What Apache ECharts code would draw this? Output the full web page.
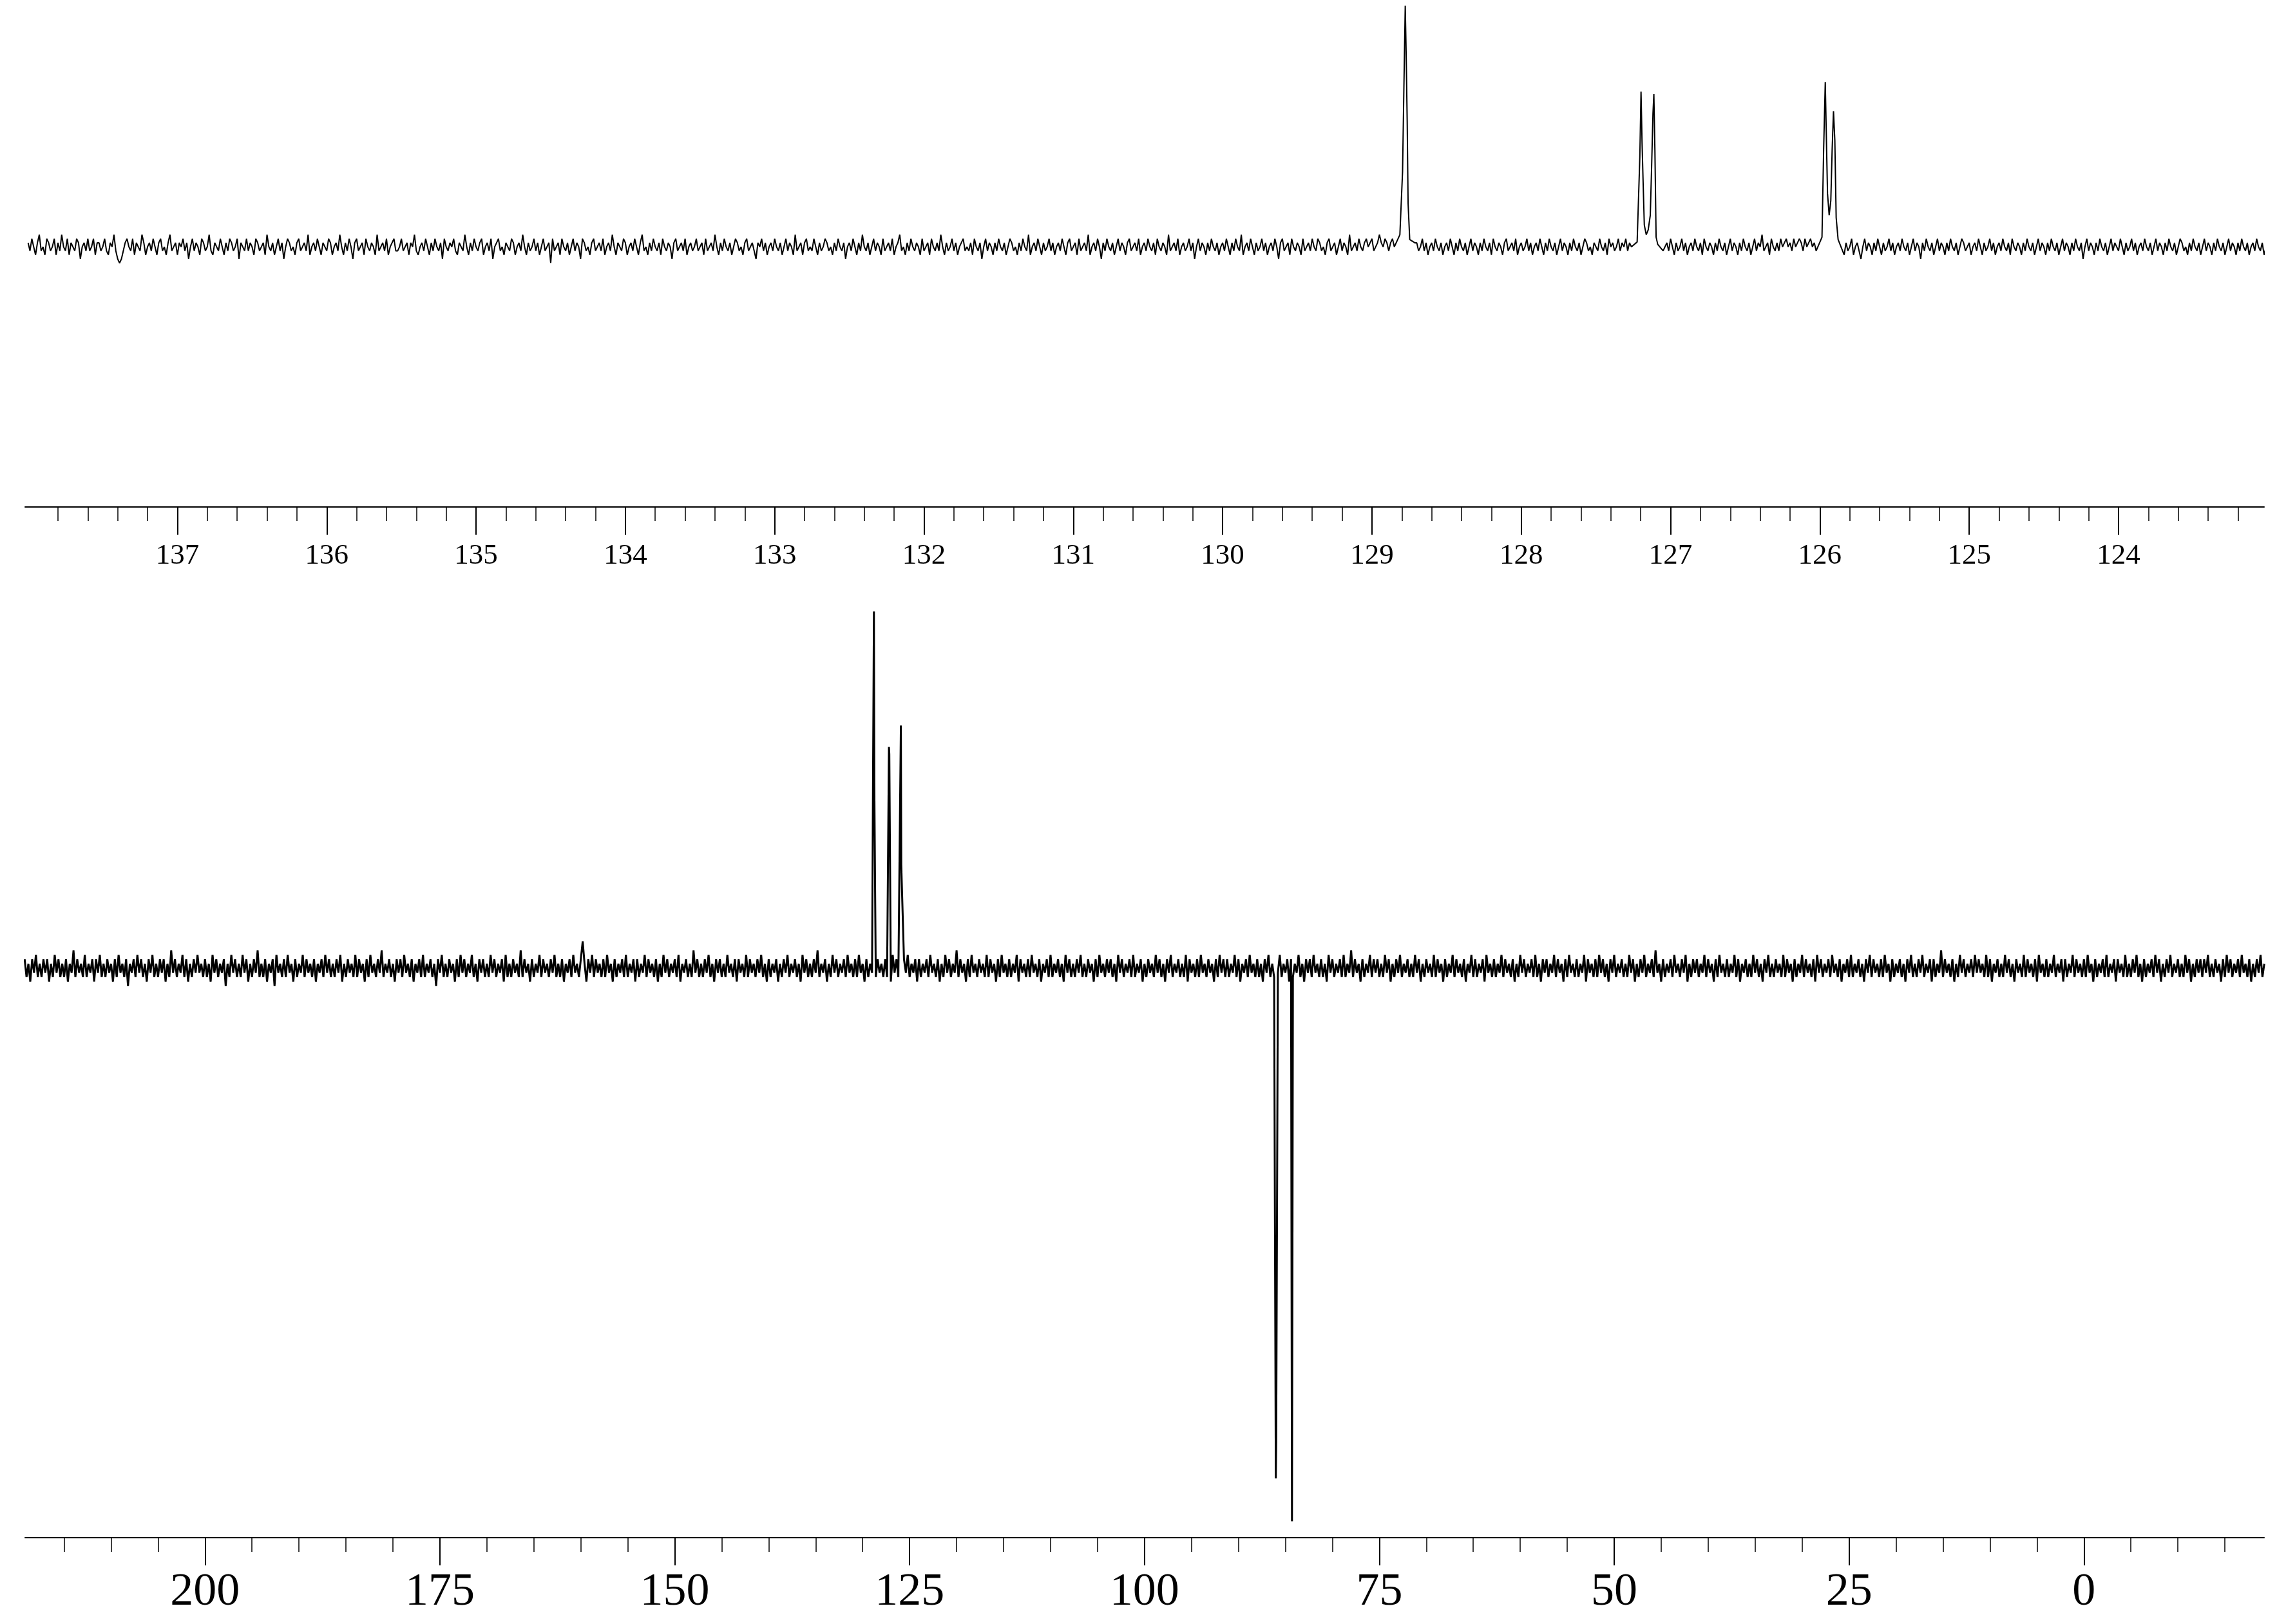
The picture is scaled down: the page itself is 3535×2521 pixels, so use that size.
<!DOCTYPE html>
<html>
<head>
<meta charset="utf-8">
<script src="https://cdn.jsdelivr.net/npm/echarts@6.0.0/dist/echarts.min.js"></script>
<style>
	html, body { margin: 0; padding: 0; background: #fff; }
	#chart { width: 3535px; height: 2521px; }
</style>
</head>
<body>
<div id="chart"></div>
<script>
	// upper panel: expansion 138 - 123 ppm
	var topStart = 138.0, topEnd = 123.0;
	var topNoise = [
		1,-1,2,0,-2,1,3,-1,0,-2,2,1,-1,0,2,-2,1,-1,3,0,-1,2,-2,1,0,-1,2,1,-3,0,1,-1,2,-1,0,2,-2,1,1,-1,
		0,2,-1,-2,1,0,3,-1,-3,-4,-3,-1,1,2,0,-1,2,-2,1,0,-1,3,1,-2,0,1,-1,2,0,-2,1,2,-1,0,-2,1,3,-1,0,1,
		-2,1,0,2,-1,1,-3,0,2,-1,1,0,-2,2,1,-1,0,3,-1,-2,1,0,-1,2,0,-2,1,-1,2,1,-1,0,2,-3,1,0,-1,2,-1,1,
		0,-2,2,1,-1,0,1,-2,3,0,-1,1,-2,0,2,-1,1,-3,0,2,1,-1,0,-2,1,2,-1,0,1,-1,3,-2,0,1,-1,2,0,-2,1,0,
		-1,2,1,-2,0,1,-1,3,0,-2,1,-1,2,0,-3,1,2,-1,0,1,-2,2,0,-1,1,0,-2,3,-1,0,1,-1,2,-2,0,1,2,-1,-1,0,
		2,-1,0,1,-2,1,0,3,-1,-2,0,1,-1,2,0,-2,1,-1,2,0,-1,1,-3,2,0,-1,1,0,2,-1,-2,1,0,-1,3,0,-2,1,-1,2,
		0,-1,1,2,-2,0,1,-1,2,-3,0,1,2,-1,0,-2,1,0,-1,2,1,-2,0,1,-1,3,0,-2,1,-1,0,2,-1,1,-2,0,2,-1,0,1,
		-4,2,-1,0,1,-2,2,0,-1,1,-2,0,2,-1,1,0,-3,2,1,-1,0,-2,1,2,-1,0,1,-1,2,-2,0,1,-1,3,0,-2,1,0,-1,2,
		1,-2,0,1,-1,2,0,-2,1,3,-1,0,-2,1,-1,2,0,-1,1,-2,2,0,-1,1,0,-3,1,2,-1,0,1,-1,2,-2,0,1,-1,0,2,-1,
		0,1,-2,2,-1,0,1,-1,3,0,-2,1,-1,2,0,-1,1,-2,0,2,1,-1,0,-2,1,2,-1,0,1,-1,-3,1,0,2,-1,1,-2,0,1,-1,
		2,0,-1,1,-2,0,2,-1,1,0,-2,3,-1,0,1,-2,1,2,-1,0,-1,2,0,-2,1,-1,0,2,1,-1,0,-2,1,-1,2,0,-1,1,-3,0,
		1,-1,2,0,-2,1,-1,3,0,-1,1,-2,0,2,-1,1,0,-2,2,-1,0,1,-1,2,-2,0,1,3,-1,0,-2,1,-1,2,0,-1,1,0,-2,2,
		-1,0,1,-2,2,0,-1,1,-1,3,0,-2,1,-1,0,2,-1,1,-2,0,1,2,-1,0,-1,1,-2,2,0,-1,1,-3,0,2,-1,1,0,-2,1,-1,
		2,0,-1,1,-2,0,2,1,-1,0,-2,1,-1,2,0,-1,3,-2,0,1,-1,2,0,-2,1,-1,0,2,-1,1,-2,0,1,-1,2,0,-2,1,2,-1,
		0,1,-2,2,-1,0,1,-1,3,-2,0,1,-1,2,0,-3,1,-1,2,0,-1,1,-2,0,2,-1,1,0,-2,1,2,-1,0,1,-1,2,-2,0,1,-1,
		2,0,-1,1,-2,2,0,-1,1,0,-2,3,-1,0,1,-1,2,-2,0,1,-1,0,2,-1,1,-3,0,2,-1,1,0,-2,1,-1,2,0,-1,1,-2,0,
		1,-1,2,0,-2,1,-1,2,0,-1,3,-2,0,1,-1,2,0,-2,1,-1,0,2,-1,1,-2,0,1,-1,2,0,-3,1,2,-1,0,1,-2,2,0,-1,
		1,0,-2,2,-1,0,1,-1,2,0,-1,2,1,-1,0,-2,1,2,-1,0,1,-2,0,2,-1,1,0,-2,3,-1,0,1,-1,2,0,-1,1,2,0,1,
		2,-1,0,1,3,1,0,2,1,-1,1,2,0,1,-1,2,0,1,-1,1,0,2,-1,1,1,-1,0,2,-1,1,-2,0,1,-1,2,0,-1,1,-2,0,
		1,-1,2,0,-2,1,-1,2,0,-1,1,-2,0,2,-1,1,0,-2,1,-1,2,0,-1,1,-2,2,0,-1,1,0,-2,1,2,-1,0,1,-1,2,-2,0,
		1,-1,0,2,-1,1,-2,0,1,-1,2,0,-2,1,-1,2,0,-1,1,-2,0,2,-1,1,0,-2,1,-1,2,0,-1,1,-2,0,2,1,-1,0,-2,1,
		0,-1,2,0,-1,1,-2,2,0,1,-1,0,2,-1,1,0,2,-1,1,0,2,1,-1,2,0,1,-1,2,1,0,-1,1,0,-2,1,2,-1,0,1,-1,
		2,0,-2,1,-1,0,2,-1,1,-2,0,1,-1,2,0,-1,1,-2,2,0,-1,1,0,-2,1,-1,2,0,-1,1,-2,0,2,-1,1,0,-2,1,-1,2,
		0,-1,1,-2,0,2,-1,1,0,3,-1,0,1,-2,2,0,-1,1,-1,2,0,1,2,0,1,-1,2,0,1,2,1,-1,2,0,1,2,0,1,-1,1,
		0,1,2,-1,1,0,2,1,-1,1,-1,1,0,-2,1,-1,0,2,-2,0,1,-1,-3,0,2,-1,1,0,-2,1,-1,2,0,-2,1,-1,0,2,-1,1,
		-2,0,1,-1,2,0,-1,1,-2,0,2,-1,1,0,-3,1,-1,2,0,-1,1,-2,0,2,-1,1,0,-2,1,-1,2,0,-1,1,-2,0,2,1,-1,0,
		1,-2,0,1,-1,2,0,-2,1,-1,0,2,-1,1,-2,0,1,-1,2,0,-1,1,-2,2,0,-1,1,0,-2,1,-1,2,0,-1,1,-2,0,2,-1,1,
		0,-2,1,-1,2,0,-1,1,-2,0,2,-1,1,0,-2,1,-1,2,0,-1,1,-3,0,2,-1,1,0,-2,1,-1,2,0,-1,1,-2,0,2,-1,1,0,
		-1,2,0,-2,1,-1,0,2,-1,1,-2,0,1,-1,2,0,-1,1,-2,0,2,-1,1,0,-2,1,-1,2,0,-1,1,-2,0,2,1,-1,0,-2,1,-1,
		2,0,-1,1,-2,0,2,-1,1,0,-2,1,-1,2,0,-1,1,-2,0,2,-1,1,0,-2,1,-1,2,0,-1,1,-2,0,1,-1,2,0,-1,1,-2,0,
		1
	];
	var topPeakShift = [
		128.813,128.795,128.786,128.777,128.771,128.764,128.758,128.747,
		127.224,127.206,127.198,127.191,127.185,127.176,127.163,127.150,127.136,127.127,127.118,127.112,127.105,127.097,127.086,
		125.986,125.975,125.964,125.955,125.949,125.938,125.927,125.918,125.909,125.900,125.891,125.878
	];
	var topPeakInt = [
		3,18.6,39.6,59.7,48,31.2,10.8,1.8,
		1.2,22.2,38.4,25.8,17.4,5.4,3,4.2,7.8,19.8,33,37.8,24,2.4,0.6,
		2.4,24,40.8,24,13.2,7.8,11.4,24,33.6,26.4,7.2,1.8
	];
	var topMajor = [124,125,126,127,128,129,130,131,132,133,134,135,136,137];
	var topMinor = [];
	for (var t = 1232; t <= 1378; t += 2) topMinor.push(t / 10);

	// lower panel: full 13C range
	var botStart = 219.2, botEnd = -19.2;
	var botNoise = [
		2,-2,1,-3,2,-1,3,-2,1,-2,2,-1,2,-3,1,-2,3,-1,2,-2,1,-2,2,-3,1,-1,4,-2,2,-1,1,-2,3,-2,1,-1,2,-3,2,-1,
		3,-2,1,-2,2,-1,1,-3,2,-2,3,-1,1,-2,2,-4,1,-1,2,-2,3,-1,2,-2,1,-3,2,-1,3,-2,1,-2,2,-1,2,-3,1,-2,4,-1,
		2,-2,1,-1,3,-2,2,-3,1,-2,2,-1,3,-1,1,-2,2,-2,1,-3,3,-1,2,-2,1,-1,2,-4,1,-2,3,-1,2,-2,1,-2,3,-1,2,-3,
		1,-2,2,-1,4,-2,1,-2,2,-3,1,-1,2,-4,3,-1,1,-2,2,-2,3,-1,1,-3,2,-2,1,-1,3,-2,2,-1,1,-2,2,-3,1,-1,2,-2,
		3,-1,2,-2,1,-2,2,-1,3,-3,1,-2,2,-1,1,-2,3,-2,2,-1,1,-3,2,-2,3,-1,1,-2,2,-1,4,-2,1,-1,2,-2,1,-3,2,-1,
		2,-2,3,-1,1,-2,2,-3,1,-1,2,-2,3,-2,1,-1,2,-2,1,-4,2,-1,3,-2,1,-2,2,-1,1,-3,2,-2,3,-1,2,-2,1,-1,3,-2,
		1,-3,2,-1,2,-2,1,-2,3,-1,2,-2,1,-1,2,-3,3,-2,1,-2,2,-1,1,-2,4,-2,2,-1,1,-3,2,-2,1,-1,3,-2,2,-1,1,-2,
		2,-1,3,-2,1,-2,2,-3,1,-1,2,-2,3,-1,1,-2,2,6,1,-3,2,-1,3,-2,2,-1,1,-2,2,-2,3,-1,1,-3,2,-2,1,-1,2,-2,
		3,-2,1,-1,2,-3,2,-2,1,-1,3,-2,2,-1,1,-2,2,-3,1,-2,3,-1,2,-2,1,-1,2,-2,3,-3,1,-1,2,-2,1,-2,4,-1,2,-2,
		1,-2,2,-1,3,-2,1,-3,2,-1,2,-2,1,-2,3,-1,1,-2,2,-3,2,-1,1,-2,3,-2,2,-1,1,-2,2,-1,3,-2,1,-3,2,-2,1,-1,
		2,-3,1,-2,2,-1,3,-2,1,-1,2,-2,1,-3,3,-1,2,-2,1,-2,2,-1,4,-2,1,-1,2,-3,1,-2,3,-1,2,-2,1,-1,2,-2,3,-1,
		1,-2,2,-2,3,-1,1,-3,2,-2,1,-1,3,-2,2,-1,1,-2,2,-2,1,-3,3,-1,2,-2,1,-2,2,-1,3,-2,1,-1,2,-3,2,-2,1,-1,
		2,-2,3,-1,1,-2,2,-3,1,-2,3,-1,2,-2,1,-1,4,-2,2,-1,1,-3,2,-2,3,-1,1,-2,2,-1,1,-2,3,-2,2,-1,1,-3,2,-2,
		3,-1,1,-2,2,-2,1,-1,3,-3,2,-1,1,-2,2,-2,3,-1,1,-2,2,-3,1,-1,2,-2,3,-2,1,-1,2,-2,1,-3,3,-1,2,-2,1,-2,
		2,-1,3,-2,1,-2,2,-1,1,-3,2,-2,3,-1,1,-2,2,-1,2,-2,1,-3,3,-1,2,-2,1,-1,2,-2,3,-2,1,-1,2,-3,1,-2,2,-1,
		1,-2,3,-1,2,-2,1,-3,2,-1,3,-2,1,-1,2,-2,1,-2,3,-3,2,-1,1,-2,2,-2,3,-1,1,-2,2,-1,1,-3,2,-2,3,-1,2,-2,
		2,-2,1,-1,3,-2,2,-3,1,-1,2,-2,3,-1,1,-2,2,-2,1,-3,2,-1,3,-2,1,-2,2,-1,3,-2,1,-1,2,-3,2,-2,1,-1,3,-2,
		1,-3,2,-1,2,-2,3,-1,1,-2,2,-2,1,-3,3,-1,2,-2,1,-1,2,-2,3,-2,1,-1,4,-2,2,-1,1,-3,2,-2,1,-1,3,-2,2,-1,
		2,-2,1,-2,3,-1,2,-3,1,-2,2,-1,3,-2,1,-1,2,-2,1,-2,3,-1,2,-3,1,-2,2,-1,1,-2,3,-2,2,-1,1,-3,2,-2,1,-1,
		3,-2,2,-1,1,-2,2,-3,1,-1,3,-2,2,-2,1,-1,2,-3,3,-1,1,-2,2,-2,1,-1,3,-2,2,-1,1,-2,2,-3,1,-2,3,-1,2,-2,
		1,-1,2,-2,3,-2,1,-3,2,-1,2,-2,1,-1,3,-2,2,-1,1,-3,2,-2,3,-1,1,-2,2,-2,1,-1,3,-3,2,-1,1,-2,2,-2,3,-1,
		2,-2,1,-3,2,-1,3,-2,1,-1,2,-2,1,-2,3,-1,2,-3,1,-2,2,-1,3,-2,1,-1,2,-2,4,-1,1,-3,2,-2,1,-1,2,-2,3,-1,
		1,-2,2,-1,3,-3,1,-2,2,-1,2,-2,1,-1,3,-2,2,-1,1,-3,2,-2,3,-1,1,-2,2,-2,1,-1,3,-2,2,-3,1,-1,2,-2,1,-2,
		3,-1,2,-2,1,-3,2,-1,3,-2,1,-2,2,-1,1,-2,3,-2,2,-1,1,-3,2,-2,1,-1,3,-2,2,-1,1,-2,2,-3,3,-1,2,-2,1,-1,
		2,-2,3,-1,1,-2,2,-3,1,-1,2,-2,3,-2,1,-1,2,-2,1,-3,2,-1,3,-2,2,-1,1,-2,2,-2,3,-1,1,-3,2,-2,1,-1,2,-2,
		1,-3,2,-1,3,-2,1,-2,2,-1,3,-2,1,-1,2,-3,2,-2,1,-1,4,-2,2,-1,1,-2,2,-3,1,-2,3,-1,2,-2,1,-1,2,-2,3,-1,
		2,-1,1,-2,3,-2,2,-3,1,-1,2,-2,1,-2,3,-1,2,-2,1,-3,2,-1,1,-2,3,-2,2,-1,1,-2,2,-3,3,-1,1,-2,2,-2,1,-1,
		3,-2,1,-1,2,-3,2,-2,1,-1,3,-2,2,-1,1,-2,2,-2,3,-1,1,-3,2,-2,1,-1,2,-2,3,-2,1,-1,2,-3,2,-1,1,-2,3,-2,
		1,-2,2,-1,3,-2,1,-3,2,-2,1,-1,2,-2,3,-1,2,-3,1,-2,2,-1,3,-2,1,-1,2,-2,1,-2,3,-1,2,-3,1,-2,2,-1,2,-2,
		2,-1,3,-2,1,-2,2,-1,1,-3,2,-2,3,-1,2,-2,1,-1,2,-2,3,-1,1,-2,2,-3,1,-2,2,-1,3,-2,1
	];
	var botPeakShift = [128.80,128.76,127.20,127.16,125.93,125.89,86.02,85.98,84.30];
	var botPeakInt = [80,41.6,49.6,48,54.4,23.2,-114.4,-106.4,-124];
	var botMajor = [0,25,50,75,100,125,150,175,200];
	var botMinor = [];
	for (var b = -15; b <= 215; b += 5) botMinor.push(b);

	// noise grid + peak points, sorted by shift
	function buildPoints(noise, start, end, peakX, peakY, win) {
		var step = (start - end) / (noise.length - 1);
		var pts = [];
		for (var i = 0; i < noise.length; i++) {
			var x = start - i * step;
			var near = peakX.some(function (p) { return Math.abs(p - x) < win; });
			if (!near) pts.push([x, noise[i]]);
		}
		for (var j = 0; j < peakX.length; j++) pts.push([peakX[j], peakY[j]]);
		pts.sort(function (a, c) { return c[0] - a[0]; });
		return pts;
	}

	var topData = buildPoints(topNoise, topStart, topEnd, topPeakShift, topPeakInt, 0.03);
	var botData = buildPoints(botNoise, botStart, botEnd, botPeakShift, botPeakInt, 0.1);

	var font = '"Liberation Serif", "DejaVu Serif", serif';

	function majorAxis(grid, min, max, ticks, fontSize, margin) {
		return {
			gridIndex: grid, type: 'value', min: min, max: max, inverse: true, position: 'bottom',
			axisLine: { show: true, onZero: false, lineStyle: { color: '#000', width: 2 } },
			axisTick: { show: true, inside: false, length: 43, customValues: ticks, lineStyle: { color: '#000', width: 2 } },
			axisLabel: { show: true, customValues: ticks, margin: margin, fontSize: fontSize, fontFamily: font, color: '#000' },
			splitLine: { show: false }
		};
	}
	function minorAxis(grid, min, max, ticks) {
		return {
			gridIndex: grid, type: 'value', min: min, max: max, inverse: true, position: 'bottom',
			axisLine: { show: false, onZero: false },
			axisTick: { show: true, inside: false, length: 22, customValues: ticks, lineStyle: { color: '#000', width: 1.5 } },
			axisLabel: { show: false },
			splitLine: { show: false }
		};
	}

	var chart = echarts.init(document.getElementById('chart'));
	chart.setOption({
		animation: false,
		backgroundColor: '#fff',
		grid: [
			{ left: 39, right: 20, top: 0, height: 787 },
			{ left: 39, right: 20, top: 900, height: 1487 }
		],
		xAxis: [
			majorAxis(0, 123.025, 138.02, topMajor, 45, 54),
			minorAxis(0, 123.025, 138.02, topMinor),
			majorAxis(1, -19.18, 219.15, botMajor, 72, 49),
			minorAxis(1, -19.18, 219.15, botMinor)
		],
		yAxis: [
			{ gridIndex: 0, type: 'value', min: -64.4, max: 61.1, show: false },
			{ gridIndex: 1, type: 'value', min: -127.7, max: 87.1, show: false }
		],
		series: [
			{
				type: 'line', xAxisIndex: 0, yAxisIndex: 0, data: topData,
				showSymbol: false, sampling: null, lineStyle: { color: '#000', width: 2 }
			},
			{
				type: 'line', xAxisIndex: 2, yAxisIndex: 1, data: botData,
				showSymbol: false, sampling: null, lineStyle: { color: '#000', width: 3 }
			}
		]
	});
	window.addEventListener('resize', function () { chart.resize(); });
</script>
</body>
</html>
